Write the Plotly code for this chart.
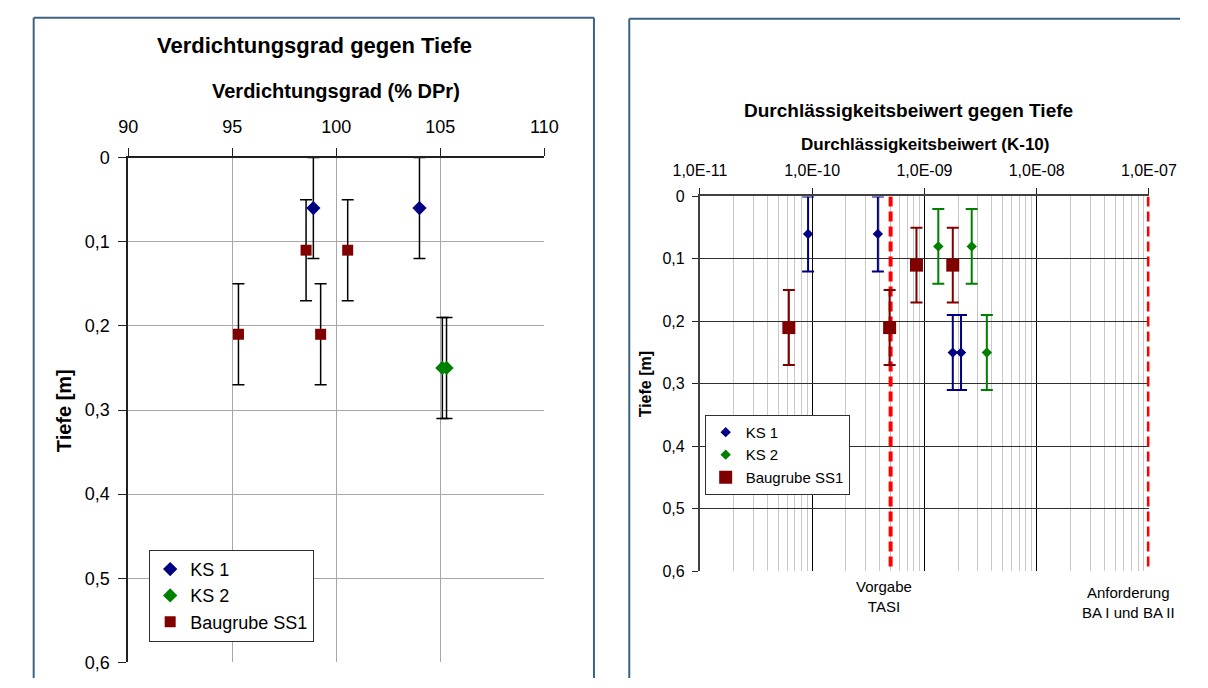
import plotly.graph_objects as go

W, H = 1208, 688
FONT = "Liberation Sans, Arial, sans-serif"

# ---------------- data: left chart (Verdichtungsgrad) ----------------
ks1_dpr = [98.9, 104.0]
ks1_dpr_depth = [0.06, 0.06]
ks1_dpr_err = [0.06, 0.06]

ks2_dpr = [105.1, 105.3]
ks2_dpr_depth = [0.25, 0.25]
ks2_dpr_err = [0.06, 0.06]

bg_dpr = [98.55, 100.55, 95.3, 99.25]
bg_dpr_depth = [0.11, 0.11, 0.21, 0.21]
bg_dpr_err = [0.06, 0.06, 0.06, 0.06]

left_xticks = [90, 95, 100, 105, 110]
depth_ticks = [0, 0.1, 0.2, 0.3, 0.4, 0.5, 0.6]
depth_ticktext = ["0", "0,1", "0,2", "0,3", "0,4", "0,5", "0,6"]

# ---------------- data: right chart (Durchlässigkeitsbeiwert) ----------------
ks1_k = [9.2e-11, 3.85e-10, 1.79e-9, 2.12e-9]
ks1_k_depth = [0.06, 0.06, 0.25, 0.25]
ks1_k_err = [0.06, 0.06, 0.06, 0.06]

ks2_k = [1.33e-9, 2.64e-9, 3.6e-9]
ks2_k_depth = [0.08, 0.08, 0.25]
ks2_k_err = [0.06, 0.06, 0.06]

bg_k = [6.2e-11, 4.9e-10, 8.5e-10, 1.79e-9]
bg_k_depth = [0.21, 0.21, 0.11, 0.11]
bg_k_err = [0.06, 0.06, 0.06, 0.06]

tasi_limit = 5e-10
ba_limit = 1e-7

right_xticks = [1e-11, 1e-10, 1e-9, 1e-8, 1e-7]
right_xticktext = ["1,0E-11", "1,0E-10", "1,0E-09", "1,0E-08", "1,0E-07"]
decades = [1e-11, 1e-10, 1e-9, 1e-8]
minor_vals = [d * m for d in decades for m in range(2, 10)]

C_KS1 = "#000080"
C_KS2 = "#008000"
C_BG = "#800000"


def px(x):
    return x / W


def py(y):
    return 1 - y / H


fig = go.Figure()

# ---------- left chart traces ----------
eb_left = dict(type="data", color="black", thickness=1.5, width=6)
fig.add_trace(go.Scatter(
    x=ks1_dpr, y=ks1_dpr_depth, mode="markers", name="KS 1",
    marker=dict(symbol="diamond", size=11, color=C_KS1),
    error_y=dict(array=ks1_dpr_err, **eb_left),
    xaxis="x", yaxis="y", legend="legend"))
fig.add_trace(go.Scatter(
    x=ks2_dpr, y=ks2_dpr_depth, mode="markers", name="KS 2",
    marker=dict(symbol="diamond", size=11, color=C_KS2),
    error_y=dict(array=ks2_dpr_err, **eb_left),
    xaxis="x", yaxis="y", legend="legend"))
fig.add_trace(go.Scatter(
    x=bg_dpr, y=bg_dpr_depth, mode="markers", name="Baugrube SS1",
    marker=dict(symbol="square", size=11, color=C_BG),
    error_y=dict(array=bg_dpr_err, **eb_left),
    xaxis="x", yaxis="y", legend="legend"))

# ---------- right chart traces ----------
fig.add_trace(go.Scatter(
    x=[tasi_limit, tasi_limit], y=[0, 0.6], mode="lines", showlegend=False,
    line=dict(color="#ff0000", width=4, dash="10px,5px"),
    xaxis="x2", yaxis="y2", hoverinfo="skip"))
fig.add_trace(go.Scatter(
    x=[ba_limit, ba_limit], y=[0, 0.6], mode="lines", showlegend=False,
    line=dict(color="#ff0000", width=4, dash="10px,5px"),
    xaxis="x2", yaxis="y2", hoverinfo="skip"))

fig.add_trace(go.Scatter(
    x=ks1_k, y=ks1_k_depth, mode="markers", name="KS 1",
    marker=dict(symbol="diamond", size=8, color=C_KS1),
    error_y=dict(type="data", array=ks1_k_err, color=C_KS1, thickness=2, width=6),
    xaxis="x2", yaxis="y2", legend="legend2"))
fig.add_trace(go.Scatter(
    x=ks2_k, y=ks2_k_depth, mode="markers", name="KS 2",
    marker=dict(symbol="diamond", size=8, color=C_KS2),
    error_y=dict(type="data", array=ks2_k_err, color=C_KS2, thickness=2, width=6),
    xaxis="x2", yaxis="y2", legend="legend2"))
fig.add_trace(go.Scatter(
    x=bg_k, y=bg_k_depth, mode="markers", name="Baugrube SS1",
    marker=dict(symbol="square", size=13, color=C_BG),
    error_y=dict(type="data", array=bg_k_err, color=C_BG, thickness=2, width=6),
    xaxis="x2", yaxis="y2", legend="legend2"))

# ---------- layout ----------
fig.update_layout(
    width=W, height=H,
    margin=dict(l=0, r=0, t=0, b=0),
    paper_bgcolor="white", plot_bgcolor="white",
    font=dict(family=FONT, color="black"),
    xaxis=dict(
        domain=[px(106), px(542)], anchor="y", side="top",
        range=[90, 110], tickvals=left_xticks,
        showgrid=True, gridcolor="#a8a8a8", gridwidth=1,
        showline=True, linecolor="#202020", linewidth=1.5,
        ticks="outside", ticklen=8, tickcolor="#202020",
        tickfont=dict(size=18), ticklabelstandoff=8, zeroline=False),
    yaxis=dict(
        domain=[py(672), py(152)], anchor="x",
        range=[0.6, 0], tickvals=depth_ticks, ticktext=depth_ticktext,
        showgrid=True, gridcolor="#a8a8a8", gridwidth=1,
        showline=True, linecolor="#202020", linewidth=1.5,
        ticks="outside", ticklen=8, tickcolor="#202020",
        tickfont=dict(size=18), ticklabelstandoff=5, zeroline=False),
    xaxis2=dict(
        domain=[px(705), px(1176)], anchor="y2", side="top", type="log",
        range=[-11, -6.995], tickvals=right_xticks, ticktext=right_xticktext,
        showgrid=True, gridcolor="#000000", gridwidth=1,
        minor=dict(tickvals=minor_vals, showgrid=True, gridcolor="#c8c8c8",
                   gridwidth=1, ticks=""),
        showline=True, linecolor="#404040", linewidth=2,
        ticks="outside", ticklen=6, tickcolor="#202020",
        tickfont=dict(size=16), ticklabelstandoff=6, zeroline=False),
    yaxis2=dict(
        domain=[py(578), py(192)], anchor="x2",
        range=[0.6, 0], tickvals=depth_ticks, ticktext=depth_ticktext,
        showgrid=True, gridcolor="#303030", gridwidth=1,
        showline=True, linecolor="#404040", linewidth=2,
        ticks="outside", ticklen=6, tickcolor="#202020",
        tickfont=dict(size=16), ticklabelstandoff=4, zeroline=False),
    legend=dict(
        x=px(128), y=py(556), xanchor="left", yanchor="top",
        bgcolor="white", bordercolor="#303030", borderwidth=1,
        font=dict(size=18), tracegroupgap=0),
    legend2=dict(
        x=px(710), y=py(417), xanchor="left", yanchor="top",
        bgcolor="white", bordercolor="#303030", borderwidth=1,
        font=dict(size=15), tracegroupgap=0),
    showlegend=True,
)

annotations = [
    dict(text="<b>Verdichtungsgrad gegen Tiefe</b>", x=px(301), y=py(37),
         font=dict(size=22)),
    dict(text="<b>Verdichtungsgrad (% DPr)</b>", x=px(324), y=py(83),
         font=dict(size=20)),
    dict(text="<b>Tiefe [m]</b>", x=px(39), y=py(413), textangle=-90,
         font=dict(size=20)),
    dict(text="<b>Durchlässigkeitsbeiwert gegen Tiefe</b>", x=px(924), y=py(103),
         font=dict(size=19)),
    dict(text="<b>Durchlässigkeitsbeiwert (K-10)</b>", x=px(941), y=py(139),
         font=dict(size=17)),
    dict(text="<b>Tiefe [m]</b>", x=px(648), y=py(385), textangle=-90,
         font=dict(size=16)),
    dict(text="Vorgabe<br>TASI", x=px(898), y=py(604), font=dict(size=15)),
    dict(text="Anforderung<br>BA I und BA II", x=px(1154), y=py(610),
         font=dict(size=15)),
]
for a in annotations:
    a.update(xref="paper", yref="paper", showarrow=False,
             xanchor="center", yanchor="middle")
fig.update_layout(annotations=annotations)

# panel borders (kept inside the figure)
border = dict(color="#3c6482", width=2)
panel_lines = [
    (7, 8, 7, 688), (7, 8, 594, 8), (594, 8, 594, 688),      # left panel
    (631, 9, 631, 688), (631, 9, 1208, 9),                    # right panel
]
for x0, y0, x1, y1 in panel_lines:
    fig.add_shape(type="line", xref="paper", yref="paper",
                  x0=px(x0), y0=py(y0), x1=px(x1), y1=py(y1), line=border)

fig.write_html(
    "out.html",
    config={"displayModeBar": False},
    post_script="document.body.style.margin='0px';"
                "document.body.style.overflow='hidden';",
)
